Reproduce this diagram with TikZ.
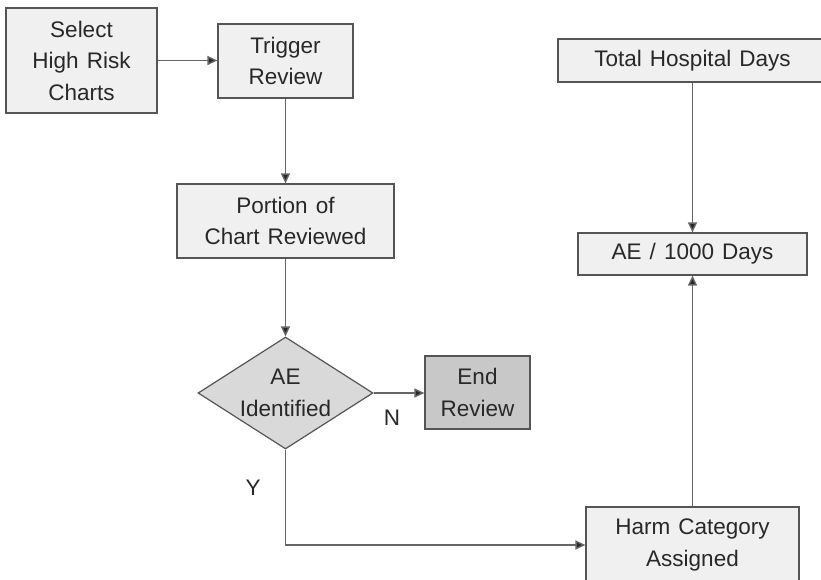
\documentclass[tikz,border=0pt]{standalone}
\usepackage{fontspec}
\setmainfont{Liberation Sans}[WordSpace=1.3]
\usetikzlibrary{shapes.geometric,arrows.meta}

\definecolor{boxfill}{HTML}{F0F0F0}
\definecolor{darkfill}{HTML}{C8C8C8}
\definecolor{diafill}{HTML}{D9D9D9}
\definecolor{edge}{HTML}{555555}
\definecolor{wire}{HTML}{666666}
\definecolor{ink}{HTML}{282828}

\tikzset{
  x=1pt, y=-1pt,
  every node/.style={font=\fontsize{22.5}{31.5}\selectfont, text=ink},
  stepbox/.style={draw=edge, line width=1.2pt, fill=boxfill, rectangle,
    inner sep=0pt, align=center},
  endbox/.style={stepbox, fill=darkfill},
  decision/.style={draw=edge, line width=1.2pt, fill=diafill, diamond,
    inner sep=0pt, minimum width=175pt, minimum height=112pt},
  flow/.style={draw=wire, line width=1.4pt,
    -{Triangle[length=10pt,width=9pt,fill=ink]}},
  tag/.style={inner sep=0pt},
}

\begin{document}
\begin{tikzpicture}
  \useasboundingbox (0,0) rectangle (821,580);

  % process steps
  \node[stepbox, minimum width=151pt, minimum height=105pt] (select) at (81.5,60.5)
    {Select\\High Risk\\Charts};
  \node[stepbox, minimum width=135pt, minimum height=74pt] (trigger) at (285.5,61)
    {Trigger\\Review};
  \node[stepbox, minimum width=217pt, minimum height=74pt] (portion) at (285.5,221)
    {Portion of\\Chart Reviewed};
  \node[decision] (ae) at (285.5,393) {};
  \node[tag, align=center] (aetext) at (ae.center) {AE\\Identified};
  \node[endbox, minimum width=105pt, minimum height=73pt] (endrev) at (477.5,392.5)
    {End\\Review};
  \node[stepbox, minimum width=213pt, minimum height=76pt] (harm) at (692.5,545)
    {Harm Category\\Assigned};
  \node[stepbox, minimum width=229pt, minimum height=42pt] (rate) at (692.5,254)
    {AE / 1000 Days};
  \node[stepbox, minimum width=269pt, minimum height=43pt] (total) at (692.5,60.5)
    {Total Hospital Days};

  % branch labels
  \node[tag] (no) at (392,418) {N};
  \node[tag] (yes) at (253,488) {Y};

  % connectors
  \draw[flow] (select.east) -- (trigger.west |- select.east);
  \draw[flow] (trigger.south) -- (portion.north);
  \draw[flow] (portion.south) -- (ae.north);
  \draw[flow] (ae.east) -- (endrev.west |- ae.east);
  \draw[flow] (ae.south) |- (harm.west);
  \draw[flow] (harm.north) -- (rate.south);
  \draw[flow] (total.south) -- (rate.north);
\end{tikzpicture}
\end{document}
